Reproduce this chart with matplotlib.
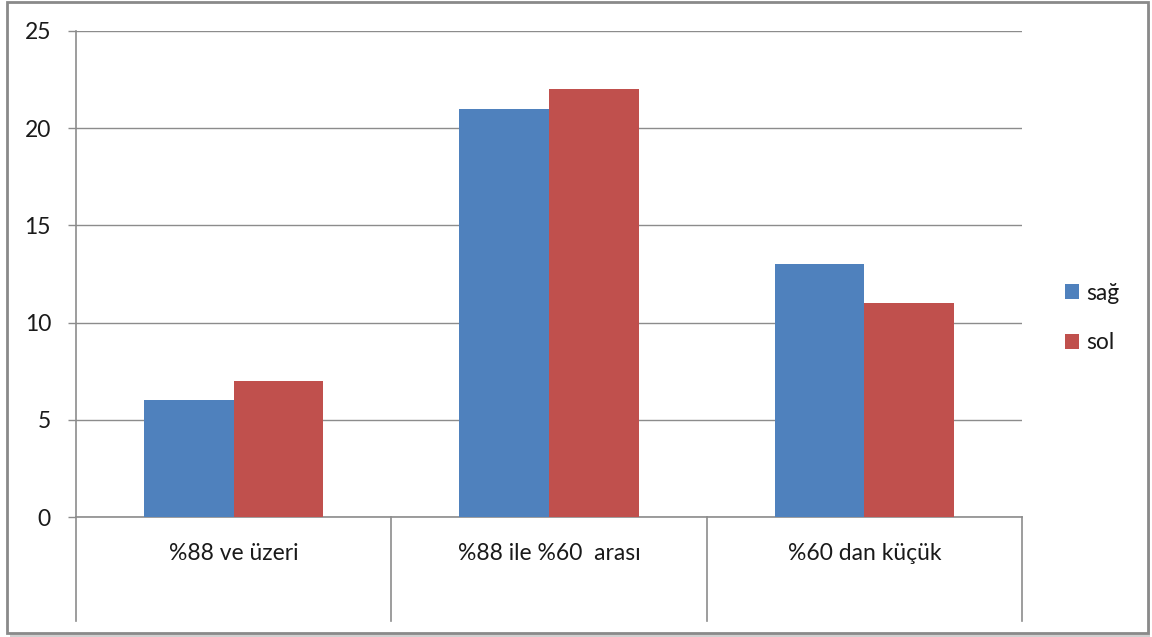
import matplotlib
matplotlib.use("Agg")
import matplotlib.pyplot as plt
import numpy as np
from matplotlib.patches import Rectangle

categories = ["%88 ve üzeri", "%88 ile %60  arası", "%60 dan küçük"]
sag = [6, 21, 13]
sol = [7, 22, 11]
series_names = ["sağ", "sol"]
yticks = [0, 5, 10, 15, 20, 25]

plt.rcParams['font.family'] = ['Lato', 'DejaVu Sans']
grid_c = '#8c8c8c'
txt_c = '#1a1a1a'
fs = 16.5
fig = plt.figure(figsize=(11.52, 6.37), dpi=100)
W, H = 1152, 637

# figure border with shadow
fig.patches.append(Rectangle((10/W, 1 - 637/H), (1150-10)/W, (637-5)/H, transform=fig.transFigure,
                             facecolor='#d0d0d0', edgecolor='none', zorder=-3))
fig.patches.append(Rectangle((7/W, 1 - 633/H), (1148-7)/W, (633-2)/H, transform=fig.transFigure,
                             facecolor='white', edgecolor='#8a8a8a', linewidth=2.0, zorder=-2))

left, right, top, bottom = 76, 1022, 31, 517
ax = fig.add_axes([left/W, 1 - bottom/H, (right-left)/W, (bottom-top)/H])
ax.set_facecolor('none')

x = np.arange(len(categories))
bw = 0.284
ax.bar(x - bw/2, sag, width=bw, color='#4F81BD', label=series_names[0], zorder=3)
ax.bar(x + bw/2, sol, width=bw, color='#C0504D', label=series_names[1], zorder=3)

ax.set_xlim(-0.5, len(categories) - 0.5)
ax.set_ylim(0, 25)
ax.set_yticks(yticks)
ax.set_yticklabels([str(v) for v in yticks], fontsize=fs, color=txt_c)
ax.tick_params(axis='y', length=6, width=1, color=grid_c, pad=12)
ax.set_xticks([])
ax.yaxis.grid(True, color=grid_c, linewidth=1)
ax.set_axisbelow(True)
for s in ['top', 'right']:
    ax.spines[s].set_visible(False)
for s in ['left', 'bottom']:
    ax.spines[s].set_color(grid_c)
    ax.spines[s].set_linewidth(1.2)

# category area below axis
ext = -(621 - 517) / (bottom - top)
trans = ax.get_xaxis_transform()
ax.plot([-0.5, -0.5], [ext, 0], transform=trans, color=grid_c, lw=1.2, clip_on=False)
for b in np.arange(0.5, len(categories), 1.0):
    ax.plot([b, b], [ext, 0], transform=trans, color=grid_c, lw=1.2, clip_on=False)
for i, c in enumerate(categories):
    ax.text(i, -(553 - 517) / (bottom - top), c, transform=trans, ha='center', va='center',
            fontsize=fs, color=txt_c)

leg = ax.legend(loc='center left', bbox_to_anchor=(1.024, (517 - 318) / (bottom - top)),
                frameon=False, fontsize=fs, handlelength=0.6, handleheight=0.6,
                handletextpad=0.3, labelspacing=1.25)
for t in leg.get_texts():
    t.set_color(txt_c)

fig.savefig('out.png', dpi=100)
